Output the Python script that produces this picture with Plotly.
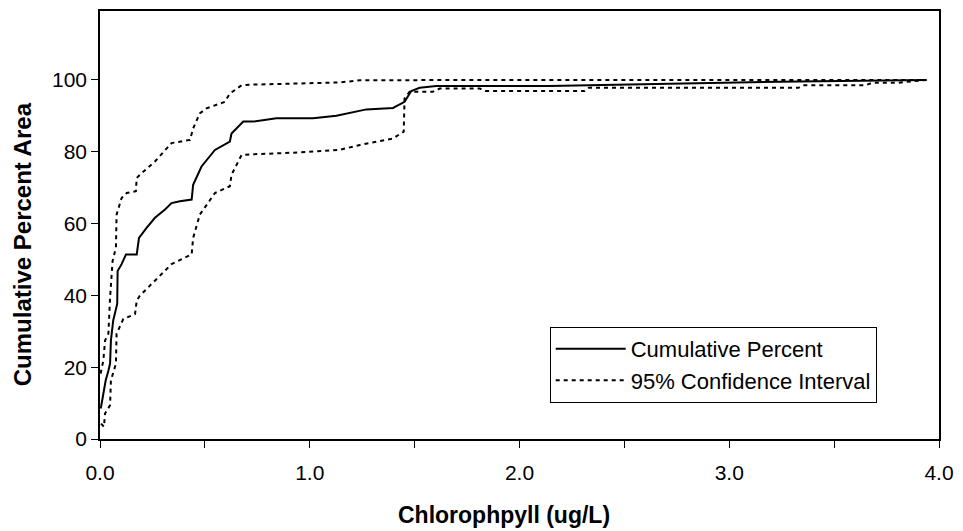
import plotly.graph_objects as go

# Cumulative percent (solid line)
cum_x = [0.002, 0.005, 0.016, 0.027, 0.04, 0.048, 0.052, 0.063, 0.082, 0.084, 0.103, 0.124, 0.175, 0.186,
         0.222, 0.262, 0.31, 0.341, 0.381, 0.437, 0.444, 0.484, 0.548, 0.619, 0.627, 0.683, 0.73, 0.841,
         1.016, 1.127, 1.27, 1.397, 1.452, 1.484, 1.524, 1.603, 2.14, 2.92, 3.33, 3.94]
cum_y = [8.5, 8.9, 12.6, 16.3, 19.0, 21.0, 27.4, 33.0, 37.6, 46.8, 48.7, 51.4, 51.4, 56.0,
         58.8, 61.6, 63.9, 65.7, 66.2, 66.7, 70.8, 75.9, 80.5, 82.8, 85.1, 88.4, 88.4, 89.3,
         89.3, 90.0, 91.8, 92.2, 93.9, 96.9, 97.8, 98.3, 98.3, 99.1, 99.6, 100.0]

# Upper 95% confidence bound
up_x = [0.003, 0.016, 0.024, 0.04, 0.048, 0.06, 0.076, 0.079, 0.103, 0.127, 0.171, 0.175, 0.198, 0.262,
        0.341, 0.429, 0.444, 0.476, 0.508, 0.595, 0.619, 0.675, 0.73, 0.952, 1.14, 1.24, 1.49, 1.825,
        2.14, 3.94]
up_y = [18.2, 21.9, 27.4, 29.3, 39.4, 49.6, 53.3, 62.5, 67.1, 68.5, 69.0, 72.7, 74.0, 77.3,
        82.4, 83.3, 86.5, 90.7, 92.1, 93.9, 96.2, 98.5, 98.7, 99.0, 99.3, 99.9, 100.0, 100.0,
        100.0, 100.0]

# Lower 95% confidence bound
lo_x = [0.005, 0.019, 0.024, 0.048, 0.052, 0.076, 0.079, 0.111, 0.167, 0.175, 0.19, 0.254, 0.341,
        0.437, 0.444, 0.476, 0.548, 0.619, 0.627, 0.675, 0.73, 0.952, 1.14, 1.24, 1.397, 1.448,
        1.452, 1.476, 1.587, 1.62, 1.81, 1.84, 2.31, 2.33, 3.33, 3.35, 3.65, 3.68, 3.8, 3.94]
lo_y = [4.3, 3.4, 7.1, 9.4, 16.3, 21.0, 29.3, 33.4, 34.8, 38.5, 39.9, 43.6, 48.7,
        51.4, 56.0, 62.5, 68.5, 70.4, 73.6, 79.1, 79.3, 79.8, 80.5, 81.9, 83.7, 85.6,
        94.8, 96.7, 96.7, 97.6, 97.6, 96.9, 96.9, 97.8, 97.8, 98.5, 98.5, 99.2, 99.2, 100.0]

x_tickvals = [0, 0.5, 1, 1.5, 2, 2.5, 3, 3.5, 4]
x_ticktext = ["0.0", "", "1.0", "", "2.0", "", "3.0", "", "4.0"]
y_tickvals = [0, 20, 40, 60, 80, 100]

FONT = "Liberation Sans, Arial, sans-serif"

fig = go.Figure()
fig.add_trace(go.Scatter(x=cum_x, y=cum_y, mode="lines", name="Cumulative Percent",
                         line=dict(color="black", width=2)))
fig.add_trace(go.Scatter(x=up_x, y=up_y, mode="lines", name="95% Confidence Interval",
                         line=dict(color="black", width=2, dash="4px,4px"), legendgroup="ci"))
fig.add_trace(go.Scatter(x=lo_x, y=lo_y, mode="lines", name="95% Confidence Interval",
                         line=dict(color="black", width=2, dash="4px,4px"), legendgroup="ci",
                         showlegend=False))

fig.update_layout(
    width=963, height=531,
    margin=dict(l=100, r=23, t=9, b=92),
    paper_bgcolor="white", plot_bgcolor="white",
    font=dict(family=FONT, color="black", size=21),
    showlegend=True,
    legend=dict(x=0.536, y=0.262, xanchor="left", yanchor="top",
                bgcolor="white", bordercolor="black", borderwidth=1,
                font=dict(size=22, family=FONT), itemwidth=70, tracegroupgap=0),
    xaxis=dict(range=[0, 4], tickvals=x_tickvals, ticktext=x_ticktext,
               ticks="outside", ticklen=7, tickwidth=1, tickcolor="black",
               ticklabelstandoff=7,
               showline=True, linecolor="black", linewidth=1.5, mirror=True,
               showgrid=False, zeroline=False,
               tickfont=dict(size=21, family=FONT)),
    yaxis=dict(range=[0, 119.2], tickvals=y_tickvals,
               ticks="outside", ticklen=7, tickwidth=1, tickcolor="black",
               showline=True, linecolor="black", linewidth=1.5, mirror=True,
               showgrid=False, zeroline=False,
               tickfont=dict(size=21, family=FONT)),
    annotations=[
        dict(text="<b>Chlorophpyll (ug/L)</b>", xref="paper", yref="paper",
             x=0.481, y=-0.178, xanchor="center", yanchor="middle", showarrow=False,
             font=dict(size=23, family=FONT)),
        dict(text="<b>Cumulative Percent Area</b>", xref="paper", yref="paper",
             x=-0.093, y=0.455, xanchor="center", yanchor="middle", showarrow=False,
             textangle=-90, font=dict(size=24, family=FONT)),
    ],
)

fig.write_html("out.html")
